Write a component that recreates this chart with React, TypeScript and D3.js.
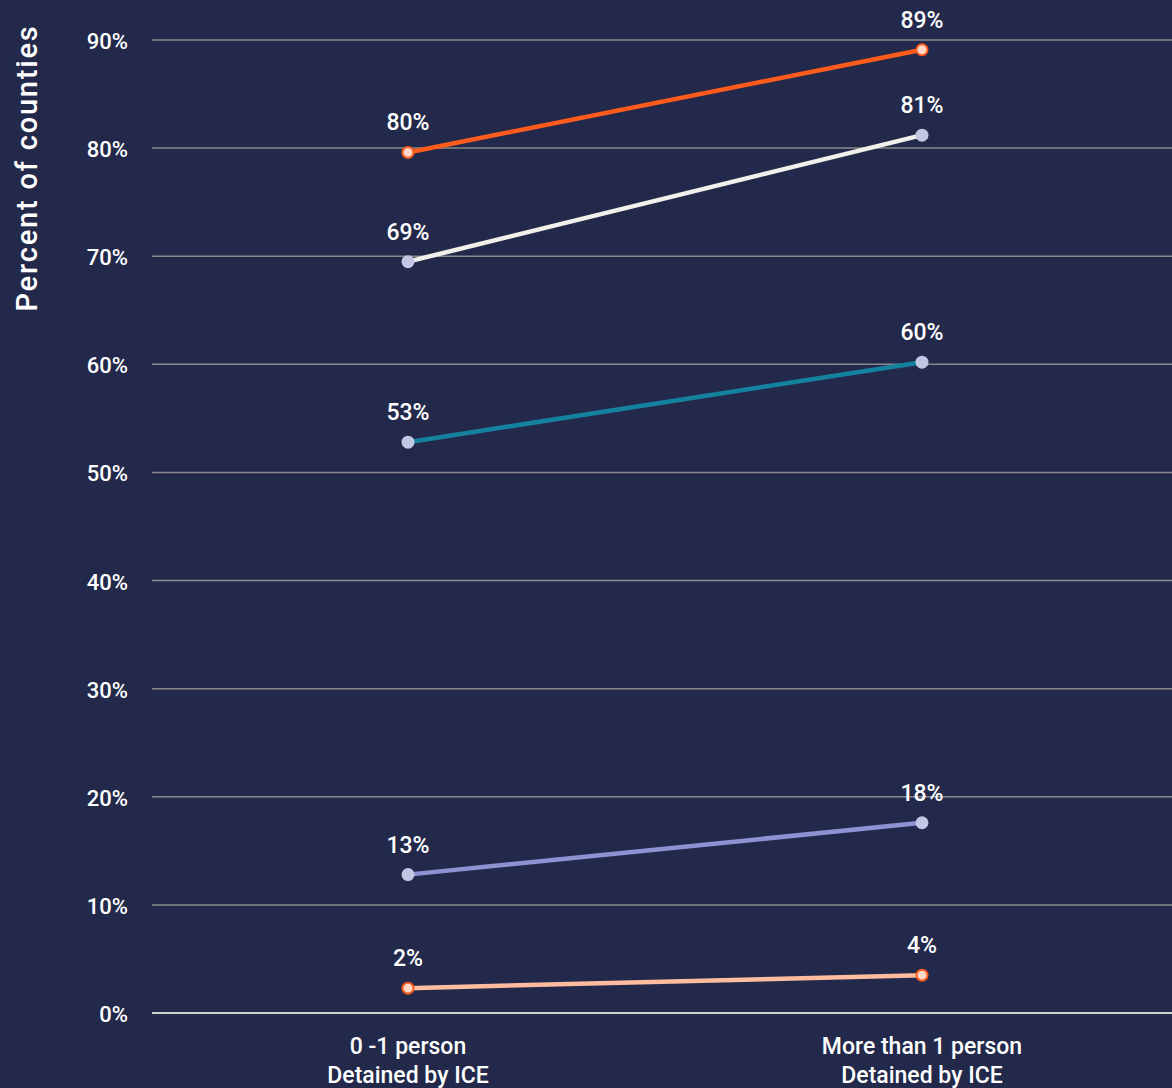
import * as d3 from 'd3';
import React from 'react';

const categories = ['0 -1 person|Detained by ICE', 'More than 1 person|Detained by ICE'];
const yTicks = [0, 10, 20, 30, 40, 50, 60, 70, 80, 90];

const orangeValues = [79.6, 89.1];
const whiteValues = [69.5, 81.2];
const tealValues = [52.8, 60.2];
const purpleValues = [12.8, 17.6];
const peachValues = [2.3, 3.5];

const orangeLabels = ['80%', '89%'];
const whiteLabels = ['69%', '81%'];
const tealLabels = ['53%', '60%'];
const purpleLabels = ['13%', '18%'];
const peachLabels = ['2%', '4%'];

type Series = { values: number[]; labels: string[]; color: string; dotFill: string; dotStroke: string };

const series: Series[] = [
  { values: orangeValues, labels: orangeLabels, color: '#ff5b1c', dotFill: '#ffd8ca', dotStroke: '#ff5b1c' },
  { values: whiteValues, labels: whiteLabels, color: '#f1f0ea', dotFill: '#c3c7e3', dotStroke: '#c3c7e3' },
  { values: tealValues, labels: tealLabels, color: '#14819f', dotFill: '#c3c7e3', dotStroke: '#c3c7e3' },
  { values: purpleValues, labels: purpleLabels, color: '#8d93d2', dotFill: '#c3c7e3', dotStroke: '#c3c7e3' },
  { values: peachValues, labels: peachLabels, color: '#ffbc9e', dotFill: '#ffd8ca', dotStroke: '#ff5b1c' },
];

const W = 1172;
const H = 1088;
const font = "'Roboto', 'DejaVu Sans', sans-serif";

const App: React.FC = () => {
  const y = d3.scaleLinear().domain([0, 90]).range([1013, 40]);
  const x = d3.scalePoint<string>().domain(categories).range([408, 922]);
  const line = d3.line<number>()
    .x((_, i) => x(categories[i]) as number)
    .y(d => y(d));

  return (
    <svg width={W} height={H} style={{ position: 'absolute', left: 0, top: 0, background: '#23294a' }}>
      <rect width={W} height={H} fill="#23294a" />
      {yTicks.map(t => (
        <g key={t}>
          <line x1={152} x2={W} y1={y(t)} y2={y(t)} stroke={t === 0 ? '#d0d0d0' : '#8a8a8a'} strokeWidth={t === 0 ? 2 : 1.5} />
          <text x={128} y={y(t) + 9} textAnchor="end" fill="#ffffff" fontFamily={font} fontWeight={500} fontSize={22}>
            {t}%
          </text>
        </g>
      ))}
      <text transform="translate(37,168) rotate(-90)" textAnchor="middle" fill="#ffffff" fontFamily={font} fontWeight={500} fontSize={29} letterSpacing={1.8}>
        Percent of counties
      </text>
      {categories.map(c => (
        <text key={c} x={x(c)} y={1054} textAnchor="middle" fill="#ffffff" fontFamily={font} fontWeight={500} fontSize={23}>
          {c.split('|').map((l, i) => (
            <tspan key={i} x={x(c)} dy={i === 0 ? 0 : 29}>{l}</tspan>
          ))}
        </text>
      ))}
      {series.map((s, si) => (
        <g key={si}>
          <path d={line(s.values) || ''} fill="none" stroke={s.color} strokeWidth={4.5} />
          {s.values.map((v, i) => (
            <g key={i}>
              <circle cx={x(categories[i])} cy={y(v)} r={5.5} fill={s.dotFill} stroke={s.dotStroke} strokeWidth={2} />
              <text x={x(categories[i])} y={y(v) - 22} textAnchor="middle" fill="#ffffff" fontFamily={font} fontWeight={500} fontSize={23}>
                {s.labels[i]}
              </text>
            </g>
          ))}
        </g>
      ))}
    </svg>
  );
};

export default App;
